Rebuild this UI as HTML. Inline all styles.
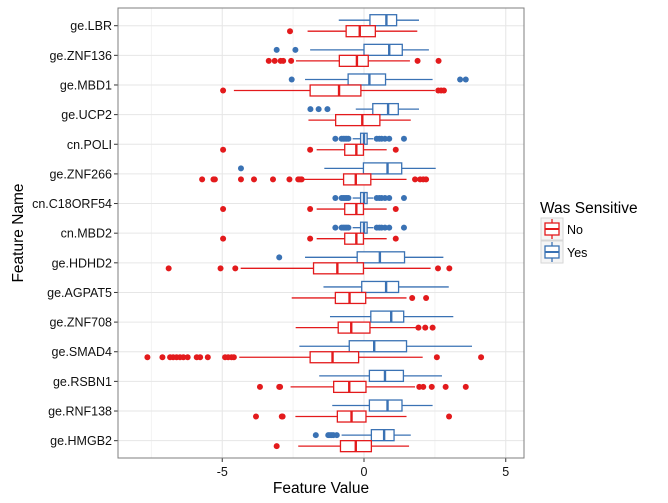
<!DOCTYPE html>
<html><head><meta charset="utf-8"><style>
body{margin:0;background:#fff;}
svg{display:block;font-family:"Liberation Sans",Arial,sans-serif;}
</style></head><body>
<svg id="chart" width="668" height="503" viewBox="0 0 668 503" xmlns="http://www.w3.org/2000/svg"></svg>
<script>
const categories=["ge.LBR","ge.ZNF136","ge.MBD1","ge.UCP2","cn.POLI","ge.ZNF266","cn.C18ORF54","cn.MBD2","ge.HDHD2","ge.AGPAT5","ge.ZNF708","ge.SMAD4","ge.RSBN1","ge.RNF138","ge.HMGB2"];
// [whiskerLow, q1, median, q3, whiskerHigh]
const yesStats=[[-0.89,0.21,0.79,1.15,1.94],[-1.90,0,0.89,1.35,2.29],[-2.08,-0.56,0.19,0.76,2.42],[-0.29,0.31,0.85,1.21,1.94],[-0.40,-0.12,0,0.11,0.33],[-1.40,-0.02,0.83,1.33,2.53],[-0.40,-0.12,0,0.11,0.33],[-0.40,-0.12,0,0.11,0.33],[-2.08,-0.24,0.56,1.43,2.80],[-1.43,-0.08,0.78,1.22,2.99],[-1.20,0.24,0.96,1.40,3.15],[-2.28,-0.52,0.36,1.50,3.81],[-1.58,0.19,0.74,1.39,2.75],[-1.12,0.19,0.83,1.34,2.42],[-0.79,0.26,0.71,1.06,1.65]];
const noStats=[[-1.99,-0.63,-0.15,0.40,1.88],[-2.40,-0.87,-0.25,0.15,1.62],[-4.59,-1.90,-0.88,-0.11,2.50],[-1.96,-1.00,-0.06,0.56,1.65],[-1.67,-0.68,-0.27,-0.02,0.80],[-2.16,-0.72,-0.29,0.24,1.50],[-1.67,-0.68,-0.27,-0.02,0.80],[-1.67,-0.68,-0.27,-0.02,0.80],[-4.35,-1.78,-0.94,-0.02,2.35],[-2.55,-1.01,-0.51,0.06,1.50],[-2.41,-0.91,-0.45,0.21,1.86],[-4.40,-1.90,-1.11,-0.19,2.07],[-2.59,-1.07,-0.52,0.07,1.80],[-2.42,-0.94,-0.44,0.07,1.50],[-2.32,-0.83,-0.29,0.26,1.59]];
const poliYesOut=[-1.01,-0.79,-0.73,-0.67,-0.61,-0.55,0.45,0.54,0.62,0.74,0.89,1.41];
const yesOutliers=[[],[-3.08,-2.42],[-2.55,3.39,3.59],[-1.89,-1.60,-1.29],poliYesOut,[-4.34],poliYesOut,poliYesOut,[-2.99],[],[],[],[],[],[-1.70,-1.26,-1.20,-1.14,-1.08,-0.96]];
const noOutliers=[[-2.61],[-3.36,-3.15,-2.94,-2.85,-2.57,1.89,2.63],[-4.97,2.62,2.72,2.82],[],[-4.97,-1.90,1.12],[-5.71,-5.31,-5.26,-4.34,-3.88,-3.21,-2.63,-2.32,-2.26,-2.20,1.80,1.98,2.09,2.19],[-4.97,-1.90,1.12],[-4.97,-1.90,1.12],[-6.89,-5.06,-4.54,2.61,3.01],[1.70,2.19],[1.92,2.16,2.42],[-7.64,-7.11,-6.84,-6.73,-6.61,-6.49,-6.37,-6.22,-5.90,-5.78,-5.51,-4.90,-4.79,-4.67,-4.59,2.57,4.13],[-3.67,-2.99,-2.96,1.95,2.09,2.39,2.88,3.59],[-3.81,-2.90,-2.87,3.00],[-3.08]];
const xTicks=[-5,0,5];
const xMinor=[-7.5,-2.5,2.5];

const NS="http://www.w3.org/2000/svg";
const svg=document.getElementById('chart');
const P={l:118,r:524,t:8,b:458};
const RED="#e31a1c",BLUE="#3a72b4";
function xs(v){return 364+v*28.35;}
function ys(i){return 25.7+i*29.64;}
function mk(tag,at,parent){const e=document.createElementNS(NS,tag);for(const k in at)e.setAttribute(k,at[k]);(parent||svg).appendChild(e);return e;}

const bg=mk('rect',{x:P.l,y:P.t,width:P.r-P.l,height:P.b-P.t,fill:'#fff'});


const grid=mk('g',{});


xMinor.forEach(v=>mk('line',{x1:xs(v),x2:xs(v),y1:P.t,y2:P.b,stroke:'#f3f3f3','stroke-width':1},grid));
xTicks.forEach(v=>mk('line',{x1:xs(v),x2:xs(v),y1:P.t,y2:P.b,stroke:'#e6e6e6','stroke-width':1},grid));
categories.forEach((c,i)=>mk('line',{x1:P.l,x2:P.r,y1:ys(i),y2:ys(i),stroke:'#e6e6e6','stroke-width':1},grid));

function drawBox(st,outs,cy,color,name){
  const g=mk('g',{});
  
  
  const h=5.5;
  mk('line',{x1:xs(st[0]),x2:xs(st[1]),y1:cy,y2:cy,stroke:color,'stroke-width':1.3},g);
  mk('line',{x1:xs(st[3]),x2:xs(st[4]),y1:cy,y2:cy,stroke:color,'stroke-width':1.3},g);
  mk('rect',{x:xs(st[1]),y:cy-h,width:xs(st[3])-xs(st[1]),height:2*h,fill:'#fff',stroke:color,'stroke-width':1.3},g);
  mk('line',{x1:xs(st[2]),x2:xs(st[2]),y1:cy-h,y2:cy+h,stroke:color,'stroke-width':2.4},g);
  outs.forEach(v=>mk('circle',{cx:xs(v),cy:cy,r:3,fill:color},g));
}
categories.forEach((c,i)=>{
  drawBox(yesStats[i],yesOutliers[i],ys(i)-5.5,BLUE,'box-yes-'+c);
  drawBox(noStats[i],noOutliers[i],ys(i)+5.5,RED,'box-no-'+c);
  const t=mk('text',{x:112,y:ys(i)+4.5,'text-anchor':'end','font-size':12.5,fill:'#111'});
  t.textContent=c;
  
  
  mk('line',{x1:114,x2:118,y1:ys(i),y2:ys(i),stroke:'#333'});
});
xTicks.forEach(v=>{
  mk('line',{x1:xs(v),x2:xs(v),y1:P.b,y2:P.b+4,stroke:'#333'});
  const t=mk('text',{x:xs(v),y:476,'text-anchor':'middle','font-size':12.5,fill:'#111'});
  t.textContent=String(v);
  
  
});
const border=mk('rect',{x:P.l,y:P.t,width:P.r-P.l,height:P.b-P.t,fill:'none',stroke:'#7f7f7f','stroke-width':1});


</script>
<svg style="position:absolute;left:0;top:0" width="668" height="503" xmlns="http://www.w3.org/2000/svg" font-family="Liberation Sans, Arial, sans-serif">
<text x="321" y="493" text-anchor="middle" font-size="15.5" fill="#000">Feature Value</text>
<text transform="translate(23,233) rotate(-90)" text-anchor="middle" font-size="15.5" fill="#000">Feature Name</text>
<g>
<text x="540" y="213" font-size="15.5" fill="#000">Was Sensitive</text>
<g>
<rect x="541" y="218" width="22" height="22" fill="#f5f5f5" stroke="#d6d6d6" stroke-width="1"/>
<line x1="552" x2="552" y1="219" y2="239" stroke="#e31a1c" stroke-width="1.3"/>
<rect x="545" y="223" width="14" height="12" fill="#fff" stroke="#e31a1c" stroke-width="1.3"/>
<line x1="545" x2="559" y1="229" y2="229" stroke="#e31a1c" stroke-width="2"/>
<text x="567" y="234" font-size="12.5" fill="#000">No</text>
</g>
<g>
<rect x="541" y="241" width="22" height="22" fill="#f5f5f5" stroke="#d6d6d6" stroke-width="1"/>
<line x1="552" x2="552" y1="242" y2="262" stroke="#3a72b4" stroke-width="1.3"/>
<rect x="545" y="246" width="14" height="12" fill="#fff" stroke="#3a72b4" stroke-width="1.3"/>
<line x1="545" x2="559" y1="252" y2="252" stroke="#3a72b4" stroke-width="2"/>
<text x="567" y="257" font-size="12.5" fill="#000">Yes</text>
</g>
</g>
</svg>
</body></html>
